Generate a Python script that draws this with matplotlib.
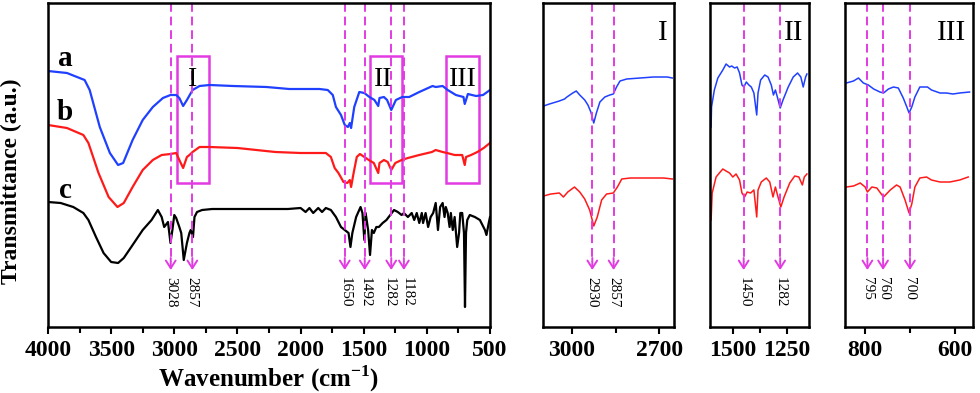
import matplotlib.pyplot as plt
from matplotlib.patches import Rectangle

plt.rcParams['font.family'] = ['Liberation Serif', 'DejaVu Serif']
plt.rcParams['mathtext.fontset'] = 'custom'
plt.rcParams['mathtext.rm'] = 'Liberation Serif'
plt.rcParams['mathtext.bf'] = 'Liberation Serif:bold'

# ---- main panel spectra (wavenumber, transmittance a.u.) ----
wn_a = [4000, 3850, 3710, 3670, 3590, 3510, 3445, 3405, 3330, 3250, 3170, 3090, 3030, 2985,
        2960, 2930, 2900, 2855, 2800, 2720, 2535, 2270, 2090, 1850, 1785, 1745, 1720, 1680,
        1650, 1625, 1610, 1600, 1575, 1535, 1495, 1455, 1415, 1385, 1375, 1340, 1315, 1282,
        1245, 1195, 1140, 1060, 955, 930, 875, 835, 770, 710, 700, 675, 610, 555, 500]
t_a = [256, 254, 247, 237, 200, 174, 162, 164, 187, 207, 220, 229, 232, 232,
       229, 221, 227, 237, 241, 242, 241, 240, 238, 238, 237, 232, 220, 212,
       202, 200, 204, 199, 220, 235, 234, 230, 227, 221, 229, 230, 227, 217,
       227, 230, 230, 235, 241, 240, 241, 237, 232, 230, 223, 233, 231, 232, 237]

wn_b = [4000, 3850, 3720, 3680, 3600, 3520, 3450, 3400, 3330, 3250, 3170, 3100, 3030, 2985,
        2960, 2930, 2900, 2880, 2855, 2800, 2720, 2500, 2200, 2000, 1800, 1760, 1730, 1700,
        1660, 1630, 1610, 1600, 1580, 1555, 1530, 1495, 1460, 1420, 1385, 1375, 1340, 1310,
        1282, 1250, 1200, 1150, 1060, 960, 930, 875, 840, 780, 720, 700, 690, 650, 600, 550, 500]
t_b = [202, 199, 192, 184, 154, 130, 120, 124, 140, 157, 167, 172, 173, 174,
       167, 159, 170, 172, 175, 180, 180, 179, 175, 174, 174, 170, 159, 154,
       145, 144, 147, 140, 154, 170, 173, 170, 167, 164, 154, 164, 167, 165,
       157, 164, 167, 169, 172, 175, 177, 175, 174, 172, 172, 162, 170, 172, 175, 179, 184]

wn_c = [4000, 3900, 3800, 3720, 3680, 3620, 3560, 3500, 3445, 3400, 3330, 3250, 3180, 3130,
        3100, 3080, 3050, 3030, 3015, 3000, 2985, 2960, 2945, 2925, 2900, 2880, 2870, 2852,
        2840, 2820, 2780, 2700, 2500, 2300, 2100, 2000, 1960, 1930, 1900, 1860, 1830, 1800,
        1760, 1720, 1680, 1650, 1620, 1605, 1590, 1560, 1525, 1510, 1495, 1485, 1465, 1450,
        1435, 1420, 1400, 1380, 1350, 1320, 1290, 1260, 1230, 1200, 1182, 1150, 1120, 1100,
        1080, 1060, 1040, 1030, 1010, 990, 970, 950, 930, 912, 895, 875, 860, 850, 835, 820,
        810, 795, 780, 760, 745, 735, 720, 706, 698, 690, 680, 660, 620, 580, 540, 528, 510, 500]
t_c = [125, 124, 120, 114, 107, 90, 74, 65, 64, 69, 82, 97, 107, 117,
       110, 100, 105, 84, 97, 112, 109, 100, 94, 67, 84, 94, 97, 90,
       110, 115, 117, 118, 118, 118, 118, 119, 115, 119, 114, 119, 115, 119,
       117, 110, 100, 97, 94, 80, 94, 110, 120, 114, 87, 114, 97, 72,
       97, 94, 100, 100, 104, 107, 112, 117, 115, 112, 114, 110, 114, 107,
       114, 104, 114, 104, 114, 100, 110, 114, 124, 97, 120, 124, 110, 120, 114, 100,
       114, 97, 110, 80, 94, 114, 114, 94, 20, 94, 107, 112, 110, 107, 97, 92, 104, 110]

# ---- inset I (C-H stretch region) ----
wn_I_a = [3097, 3077, 3043, 3025, 3017, 2997, 2985, 2973, 2956, 2945, 2935, 2925, 2916, 2904,
          2887, 2870, 2858, 2847, 2835, 2812, 2766, 2720, 2673, 2656]
t_I_a = [221, 223, 226, 228, 230, 234, 236, 232, 227, 222, 215, 204, 214, 225,
         230, 232, 233, 240, 246, 248, 249, 250, 250, 249]
wn_I_b = [3097, 3072, 3043, 3029, 3014, 2991, 2973, 2956, 2939, 2925, 2913, 2898, 2881, 2858,
          2844, 2829, 2800, 2743, 2685, 2656]
t_I_b = [131, 133, 134, 130, 135, 140, 135, 128, 117, 101, 110, 127, 133, 134,
         140, 148, 149, 149, 149, 148]

# ---- inset II ----
wn_II_a = [1600, 1598, 1585, 1569, 1546, 1531, 1515, 1505, 1492, 1480, 1469, 1458, 1449, 1438,
           1426, 1415, 1403, 1390, 1384, 1372, 1353, 1338, 1323, 1313, 1304, 1295, 1282, 1269,
           1245, 1222, 1202, 1187, 1176, 1165, 1159]
t_II_a = [200, 220, 237, 249, 257, 263, 260, 261, 259, 260, 254, 242, 240, 245,
          242, 240, 234, 212, 234, 247, 252, 250, 242, 232, 237, 230, 219, 227,
          240, 250, 254, 250, 240, 250, 253]
wn_II_b = [1600, 1595, 1577, 1562, 1546, 1531, 1515, 1500, 1485, 1469, 1458, 1446, 1434, 1418,
           1403, 1390, 1384, 1369, 1346, 1330, 1315, 1304, 1292, 1279, 1264, 1238, 1215, 1196,
           1180, 1171, 1159]
t_II_b = [107, 134, 150, 154, 158, 156, 154, 150, 153, 147, 134, 130, 135, 134,
          137, 110, 137, 145, 149, 145, 130, 140, 130, 120, 130, 144, 151, 150,
          142, 150, 153]

# ---- inset III ----
wn_III_a = [842, 826, 815, 804, 793, 781, 767, 759, 748, 737, 726, 715, 707, 702, 696, 689,
            678, 667, 661, 652, 633, 619, 604, 589, 567]
t_III_a = [244, 246, 249, 244, 242, 238, 235, 234, 238, 240, 239, 229, 220, 214, 220, 230,
           240, 240, 240, 237, 234, 234, 233, 234, 235]
wn_III_b = [842, 826, 811, 800, 795, 785, 774, 759, 744, 730, 722, 711, 702, 696, 689,
            678, 663, 652, 633, 611, 589, 570]
t_III_b = [140, 141, 144, 140, 135, 140, 139, 130, 137, 142, 140, 127, 114, 123, 140,
           149, 150, 147, 145, 145, 147, 150]

peaks_main = [3028, 2857, 1650, 1492, 1282, 1182]
peaks_I = [2930, 2857]
peaks_II = [1450, 1282]
peaks_III = [795, 760, 700]
boxes = [(2979, 2725, 'I'), (1450, 1197, 'II'), (849, 587, 'III')]

BLUE = '#2040ff'
RED = '#ff1a1a'
MAG = '#e23be2'
TIP = 57
LAB = 50


def mark(ax, w, dx=0):
    ax.plot([w, w], [324, TIP + 8], ls=(0, (4.5, 2.5)), color=MAG, lw=1.4)
    ax.annotate('', xy=(w, TIP), xytext=(w, TIP + 12),
                arrowprops=dict(arrowstyle='->,head_length=0.55,head_width=0.35',
                                color=MAG, lw=1.4, shrinkA=0, shrinkB=0))
    ax.annotate(str(w), xy=(w, LAB), xytext=(dx, 0), textcoords='offset points',
                rotation=270, ha='center', va='top', fontsize=11)


def style(ax, xlim, major, minor):
    ax.set_xlim(*xlim)
    ax.set_ylim(0, 324)
    ax.set_yticks([])
    ax.set_xticks(major)
    ax.set_xticks(minor, minor=True)
    ax.tick_params(axis='x', which='major', direction='out', length=5, width=1.5,
                   labelsize=17, pad=4)
    ax.tick_params(axis='x', which='minor', direction='out', length=4, width=1.5)
    for lab in ax.get_xticklabels():
        lab.set_fontweight('bold')
    for s in ax.spines.values():
        s.set_linewidth(1.8)


fig = plt.figure(figsize=(9.8, 3.93), dpi=100)

# main panel
ax = fig.add_axes([48 / 980, 1 - 327 / 393, 442 / 980, 324 / 393])
ax.plot(wn_a, t_a, color=BLUE, lw=1.6)
ax.plot(wn_b, t_b, color=RED, lw=1.6)
ax.plot(wn_c, t_c, color='black', lw=1.6)
style(ax, (4000, 500), list(range(4000, 499, -500)), list(range(3750, 600, -500)))
for w in peaks_main:
    mark(ax, w, dx={1282: -1.5, 1182: 2.5}.get(w, 0))
for x0, x1, name in boxes:
    ax.add_patch(Rectangle((x1, 144), x0 - x1, 127, fill=False, ec=MAG, lw=1.8))
    ax.text((x0 + x1) / 2 + (25 if name == 'II' else 0), 247, name, ha='center',
            va='center', fontsize=20)
ax.text(3865, 269, 'a', ha='center', va='center', fontsize=21, fontweight='bold')
ax.text(3865, 214, 'b', ha='center', va='center', fontsize=21, fontweight='bold')
ax.text(3865, 137, 'c', ha='center', va='center', fontsize=21, fontweight='bold')
ax.set_xlabel(r'Wavenumber (cm$^{\mathbf{-1}}$)', fontsize=18, fontweight='bold', labelpad=2)
ax.set_ylabel('Transmittance (a.u.)', fontsize=17, fontweight='bold')
ax.yaxis.set_label_coords(-0.058, 0.45)

# insets
insets = [
    ((542.7, 131.3), (3100, 2650), [3000, 2700], [2850], wn_I_a, t_I_a, wn_I_b, t_I_b, peaks_I, 'I', 0.95),
    ((710, 99.3), (1605, 1148), [1500, 1250], [1375], wn_II_a, t_II_a, wn_II_b, t_II_b, peaks_II, 'II', 0.94),
    ((845, 127.7), (845, 560), [800, 600], [700], wn_III_a, t_III_a, wn_III_b, t_III_b, peaks_III, 'III', 0.95),
]
for (x0, w), xlim, major, minor, xa, ya, xb, yb, peaks, name, tx in insets:
    axi = fig.add_axes([x0 / 980, 1 - 327 / 393, w / 980, 324 / 393])
    axi.plot(xa, ya, color=BLUE, lw=1.1)
    axi.plot(xb, yb, color=RED, lw=1.1)
    style(axi, xlim, major, minor)
    for p in peaks:
        mark(axi, p)
    axi.text(tx, 0.907, name, transform=axi.transAxes, ha='right', va='center', fontsize=21)

fig.savefig('out.png', dpi=100)
